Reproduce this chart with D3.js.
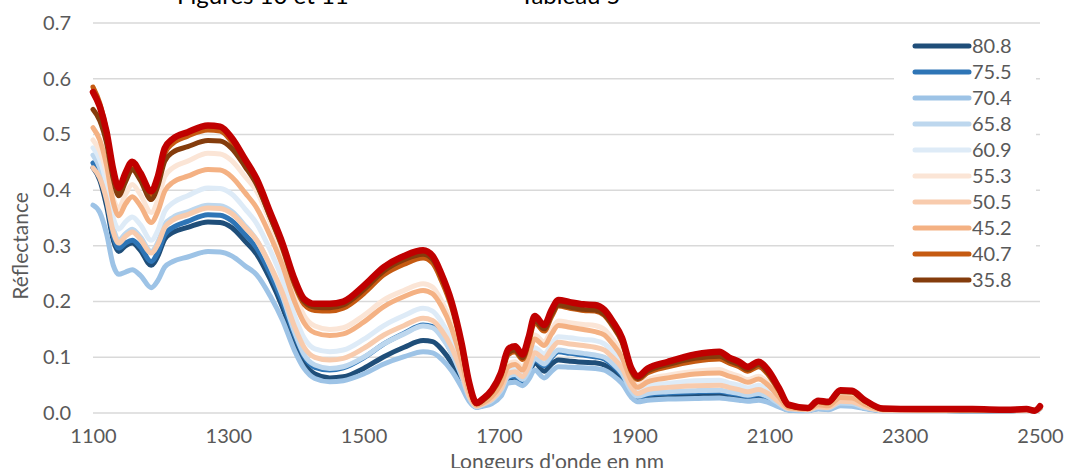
<!DOCTYPE html>
<html>
<head>
<meta charset="utf-8">
<script src="https://cdn.jsdelivr.net/npm/d3@7"></script>
<style>
  body { margin: 0; background: #fff; }
  svg { display: block; font-family: Lato, "Open Sans", sans-serif; }
</style>
</head>
<body>
<div id="chart"></div>
<script>
const width = 1068;
const height = 468;

// wavelengths (nm)
const wavelengths = [1100,1110,1120,1130,1138,1148,1158,1170,1186,1196,1206,1218,1240,1270,1288,1305,1325,1342,1362,1380,
  1398,1412,1428,1450,1470,1500,1530,1560,1588,1602,1615,1630,1645,1656,1667,1676,1690,1703,1714,1724,
  1735,1744,1753,1767,1778,1788,1805,1825,1842,1856,1868,1882,1896,1905,1920,1950,1990,2026,2040,2055,
  2068,2084,2098,2114,2128,2157,2172,2187,2205,2222,2240,2268,2320,2400,2450,2480,2492,2500];

const labels = ['80.8', '75.5', '70.4', '65.8', '60.9', '55.3', '50.5', '45.2', '40.7', '35.8'];
const colors = ['#1f4e79', '#2e75b6', '#9dc3e6', '#bdd7ee', '#deebf7', '#fbe5d6', '#f8cbad', '#f4b183', '#c55a11', '#843c0c'];

const s808 = [0.440,0.418,0.372,0.310,0.290,0.300,0.305,0.292,0.265,0.282,0.312,0.324,0.333,0.343,0.342,0.333,0.308,0.285,0.240,0.190,
  0.128,0.090,0.070,0.063,0.065,0.080,0.101,0.118,0.130,0.128,0.115,0.090,0.054,0.024,0.011,0.014,0.020,0.035,0.062,0.064,
  0.057,0.070,0.090,0.075,0.088,0.095,0.093,0.091,0.090,0.086,0.076,0.060,0.033,0.025,0.028,0.030,0.031,0.032,0.029,0.027,
  0.025,0.027,0.022,0.013,0.006,0.005,0.008,0.007,0.015,0.014,0.009,0.005,0.005,0.004,0.004,0.005,0.004,0.008];
const s755 = [0.449,0.428,0.385,0.318,0.296,0.305,0.310,0.298,0.272,0.289,0.320,0.333,0.344,0.356,0.355,0.345,0.320,0.296,0.250,0.200,
  0.140,0.102,0.082,0.077,0.081,0.099,0.124,0.143,0.158,0.155,0.139,0.109,0.066,0.028,0.011,0.015,0.022,0.038,0.064,0.066,
  0.057,0.073,0.095,0.085,0.100,0.110,0.107,0.104,0.101,0.097,0.086,0.068,0.038,0.028,0.033,0.036,0.038,0.039,0.036,0.033,
  0.030,0.033,0.027,0.016,0.007,0.005,0.009,0.008,0.017,0.016,0.010,0.005,0.005,0.004,0.004,0.005,0.004,0.009];
const s704 = [0.373,0.360,0.322,0.265,0.249,0.253,0.257,0.247,0.225,0.238,0.262,0.272,0.280,0.290,0.289,0.282,0.264,0.248,0.210,0.167,
  0.112,0.080,0.062,0.056,0.058,0.070,0.088,0.101,0.110,0.108,0.097,0.076,0.046,0.021,0.010,0.012,0.017,0.030,0.054,0.055,
  0.049,0.060,0.077,0.063,0.075,0.083,0.082,0.081,0.080,0.077,0.068,0.053,0.028,0.020,0.023,0.025,0.026,0.027,0.025,0.023,
  0.021,0.023,0.019,0.011,0.005,0.004,0.007,0.006,0.013,0.012,0.008,0.004,0.004,0.004,0.004,0.005,0.004,0.008];
const s658 = [0.463,0.440,0.395,0.332,0.310,0.322,0.330,0.316,0.290,0.307,0.338,0.351,0.361,0.373,0.372,0.362,0.336,0.310,0.263,0.210,
  0.145,0.105,0.086,0.080,0.083,0.100,0.124,0.142,0.156,0.153,0.137,0.108,0.066,0.028,0.011,0.015,0.023,0.040,0.066,0.069,
  0.060,0.076,0.098,0.088,0.103,0.113,0.110,0.107,0.104,0.100,0.089,0.071,0.040,0.030,0.035,0.038,0.040,0.041,0.038,0.035,
  0.032,0.035,0.029,0.017,0.007,0.005,0.010,0.009,0.018,0.017,0.010,0.005,0.005,0.004,0.004,0.005,0.004,0.008];
const s609 = [0.476,0.455,0.412,0.350,0.330,0.343,0.352,0.338,0.310,0.328,0.362,0.377,0.390,0.404,0.403,0.393,0.366,0.340,0.292,0.240,
  0.175,0.135,0.115,0.110,0.113,0.132,0.157,0.175,0.188,0.183,0.164,0.130,0.080,0.034,0.013,0.017,0.027,0.047,0.076,0.080,
  0.070,0.090,0.117,0.106,0.124,0.137,0.135,0.132,0.130,0.124,0.110,0.089,0.051,0.040,0.048,0.053,0.058,0.059,0.054,0.050,
  0.045,0.050,0.041,0.024,0.009,0.006,0.013,0.011,0.024,0.023,0.014,0.005,0.005,0.005,0.005,0.006,0.004,0.009];
const s553 = [0.490,0.470,0.432,0.385,0.368,0.392,0.410,0.392,0.360,0.383,0.424,0.440,0.452,0.466,0.465,0.453,0.424,0.398,0.343,0.285,
  0.215,0.175,0.156,0.150,0.153,0.175,0.203,0.220,0.232,0.226,0.202,0.160,0.098,0.042,0.015,0.019,0.032,0.056,0.088,0.092,
  0.082,0.108,0.140,0.128,0.150,0.165,0.162,0.159,0.157,0.150,0.133,0.108,0.062,0.050,0.060,0.068,0.075,0.078,0.072,0.066,
  0.060,0.066,0.055,0.032,0.011,0.007,0.016,0.014,0.030,0.029,0.017,0.006,0.006,0.006,0.005,0.006,0.005,0.009];
const s505 = [0.440,0.422,0.383,0.325,0.305,0.317,0.325,0.312,0.287,0.303,0.333,0.346,0.356,0.368,0.367,0.358,0.333,0.310,0.265,0.216,
  0.155,0.118,0.100,0.095,0.098,0.116,0.140,0.157,0.170,0.166,0.149,0.118,0.072,0.031,0.012,0.016,0.025,0.043,0.071,0.074,
  0.065,0.083,0.108,0.098,0.115,0.127,0.124,0.121,0.118,0.113,0.100,0.081,0.046,0.035,0.042,0.046,0.049,0.050,0.046,0.042,
  0.038,0.042,0.035,0.020,0.008,0.006,0.011,0.010,0.021,0.020,0.012,0.005,0.005,0.005,0.004,0.005,0.004,0.008];
const s452 = [0.512,0.490,0.445,0.378,0.354,0.375,0.388,0.372,0.342,0.362,0.398,0.414,0.425,0.437,0.436,0.424,0.395,0.368,0.318,0.265,
  0.200,0.162,0.144,0.139,0.142,0.163,0.191,0.209,0.220,0.214,0.192,0.152,0.093,0.040,0.014,0.018,0.030,0.052,0.083,0.087,
  0.077,0.102,0.133,0.121,0.142,0.157,0.154,0.150,0.146,0.140,0.124,0.100,0.058,0.046,0.056,0.063,0.070,0.072,0.066,0.061,
  0.055,0.061,0.050,0.029,0.010,0.007,0.015,0.013,0.028,0.027,0.016,0.006,0.006,0.005,0.005,0.006,0.004,0.010];
const s407 = [0.585,0.556,0.505,0.432,0.400,0.425,0.445,0.425,0.390,0.417,0.466,0.484,0.497,0.508,0.506,0.487,0.448,0.412,0.352,0.296,
  0.230,0.195,0.184,0.183,0.188,0.214,0.248,0.267,0.278,0.269,0.238,0.190,0.118,0.050,0.016,0.022,0.038,0.066,0.105,0.110,
  0.096,0.126,0.162,0.147,0.173,0.192,0.188,0.184,0.183,0.175,0.156,0.127,0.074,0.060,0.072,0.083,0.093,0.097,0.090,0.083,
  0.075,0.083,0.069,0.040,0.013,0.008,0.020,0.018,0.038,0.037,0.022,0.007,0.006,0.006,0.006,0.007,0.005,0.010];
const s358 = [0.545,0.525,0.485,0.420,0.390,0.415,0.437,0.418,0.383,0.408,0.452,0.468,0.478,0.489,0.488,0.475,0.442,0.410,0.352,0.298,
  0.234,0.200,0.190,0.189,0.194,0.221,0.255,0.275,0.285,0.276,0.244,0.195,0.121,0.052,0.017,0.023,0.040,0.069,0.108,0.113,
  0.099,0.130,0.166,0.151,0.177,0.194,0.190,0.186,0.185,0.177,0.158,0.129,0.076,0.062,0.075,0.087,0.098,0.102,0.094,0.087,
  0.078,0.087,0.072,0.042,0.014,0.008,0.021,0.019,0.039,0.038,0.023,0.007,0.007,0.006,0.006,0.007,0.004,0.011];
// top red curve (not listed in the visible legend)
const sTop = [0.576,0.550,0.505,0.436,0.404,0.431,0.451,0.431,0.398,0.425,0.475,0.492,0.504,0.516,0.514,0.494,0.455,0.420,0.360,0.305,
  0.240,0.205,0.196,0.196,0.200,0.228,0.262,0.282,0.292,0.282,0.250,0.200,0.125,0.055,0.018,0.025,0.042,0.072,0.115,0.120,
  0.105,0.136,0.174,0.158,0.185,0.203,0.199,0.195,0.194,0.185,0.165,0.135,0.080,0.066,0.080,0.092,0.105,0.110,0.100,0.092,
  0.083,0.092,0.077,0.045,0.015,0.009,0.022,0.020,0.041,0.040,0.024,0.008,0.007,0.007,0.006,0.007,0.004,0.012];
const topColor = '#c00000';

const seriesValues = [s808, s755, s704, s658, s609, s553, s505, s452, s407, s358];

const yTicks = [0, 0.1, 0.2, 0.3, 0.4, 0.5, 0.6, 0.7];
const xTicks = [1100, 1300, 1500, 1700, 1900, 2100, 2300, 2500];

const margin = {top: 23, right: 28, bottom: 55, left: 93};

const svg = d3.select('#chart').append('svg')
  .attr('width', width)
  .attr('height', height);

const xscale = d3.scaleLinear().domain([1100, 2500]).range([margin.left, width - margin.right]);
const yscale = d3.scaleLinear().domain([0, 0.7]).range([height - margin.bottom, margin.top]);

// title (cut off at the top of the picture, as in the source)
svg.append('text').attr('x', 177).attr('y', 4).attr('font-size', 24).attr('fill', '#000').text('Figures 10 et 11');
svg.append('text').attr('x', 520).attr('y', 4).attr('font-size', 24).attr('fill', '#000').text('Tableau 5');

// gridlines
svg.append('g').selectAll('line').data(yTicks).join('line')
  .attr('x1', xscale(1100)).attr('x2', xscale(2500))
  .attr('y1', (d) => yscale(d)).attr('y2', (d) => yscale(d))
  .attr('stroke', '#d9d9d9').attr('stroke-width', 1.5);

// y axis labels
const yaxis = d3.axisLeft(yscale).tickValues(yTicks).tickFormat(d3.format('.1f')).tickSize(0).tickPadding(22);
svg.append('g').attr('transform', `translate(${margin.left},0)`).call(yaxis)
  .call((g) => g.select('.domain').remove())
  .selectAll('text').attr('font-size', 20).attr('fill', '#595959').attr('font-family', 'Lato, sans-serif');

// x axis labels
const xaxis = d3.axisBottom(xscale).tickValues(xTicks).tickFormat(d3.format('d')).tickSize(0).tickPadding(16);
svg.append('g').attr('transform', `translate(0,${yscale(0)})`).call(xaxis)
  .call((g) => g.select('.domain').remove())
  .selectAll('text').attr('font-size', 20).attr('fill', '#595959').attr('font-family', 'Lato, sans-serif');

// axis titles
svg.append('text')
  .attr('transform', `translate(28,${yscale(0.3)}) rotate(-90)`)
  .attr('text-anchor', 'middle').attr('font-size', 21).attr('fill', '#595959')
  .text('Réflectance');
svg.append('text')
  .attr('x', 557).attr('y', 469)
  .attr('text-anchor', 'middle').attr('font-size', 21).attr('fill', '#595959')
  .text("Longeurs d'onde en nm");

// lines
const line = d3.line()
  .x((d) => xscale(d[0]))
  .y((d) => yscale(d[1]))
  .curve(d3.curveMonotoneX);

const plotted = seriesValues.map((vals, i) => ({
  color: colors[i], w: 5, pts: wavelengths.map((w, j) => [w, vals[j]])
}));
plotted.push({color: topColor, w: 6.5, pts: wavelengths.map((w, j) => [w, sTop[j]])});

svg.append('g').selectAll('path').data(plotted).join('path')
  .attr('d', (d) => line(d.pts))
  .attr('fill', 'none')
  .attr('stroke', (d) => d.color)
  .attr('stroke-width', (d) => d.w)
  .attr('stroke-linejoin', 'round')
  .attr('stroke-linecap', 'round');

// legend
const legend = svg.append('g');
legend.append('rect')
  .attr('x', 894).attr('y', 30).attr('width', 142).attr('height', 264)
  .attr('fill', '#fff');
const items = legend.selectAll('g').data(labels).join('g')
  .attr('transform', (d, i) => `translate(915,${46 + i * 26})`);
items.append('line')
  .attr('x1', 0).attr('x2', 54)
  .attr('stroke', (d, i) => colors[i]).attr('stroke-width', 5).attr('stroke-linecap', 'round');
items.append('text')
  .attr('x', 57).attr('dy', '0.36em')
  .attr('font-size', 20).attr('fill', '#595959')
  .text((d) => d);
</script>
</body>
</html>
